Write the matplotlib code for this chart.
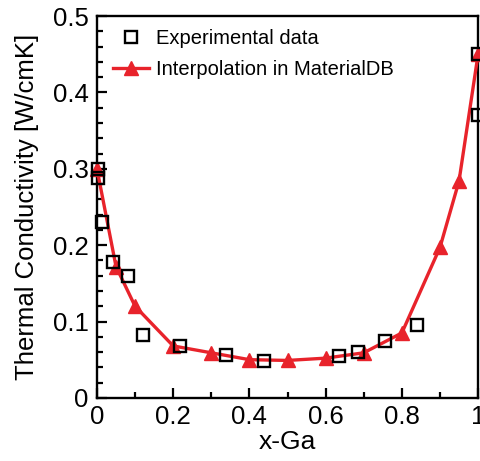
import matplotlib
matplotlib.use("Agg")
import matplotlib.pyplot as plt
from matplotlib.ticker import MultipleLocator

plt.rcParams["font.family"] = ["Liberation Sans", "DejaVu Sans"]

# interpolation in MaterialDB
x_interp = [0.0, 0.05, 0.1, 0.2, 0.3, 0.4, 0.5, 0.6, 0.7, 0.8, 0.9, 0.95, 1.0]
k_interp = [0.300, 0.172, 0.120, 0.068, 0.059, 0.050, 0.049, 0.052, 0.059, 0.085, 0.197, 0.284, 0.450]

# experimental data
x_exp = [0.003, 0.003, 0.013, 0.042, 0.081, 0.12, 0.218, 0.339, 0.438, 0.636, 0.685, 0.756, 0.84, 1.0, 1.0]
k_exp = [0.300, 0.288, 0.230, 0.178, 0.160, 0.082, 0.068, 0.056, 0.048, 0.055, 0.060, 0.074, 0.095, 0.450, 0.370]

x_ticks = [0, 0.2, 0.4, 0.6, 0.8, 1.0]
x_ticklabels = ["0", "0.2", "0.4", "0.6", "0.8", "1"]
y_ticks = [0, 0.1, 0.2, 0.3, 0.4, 0.5]
y_ticklabels = ["0", "0.1", "0.2", "0.3", "0.4", "0.5"]

red = "#e8232b"

fig = plt.figure(figsize=(4.8, 4.61), dpi=100)
ax = fig.add_axes([0.202, 0.137, 0.794, 0.828])

ax.plot(x_interp, k_interp, color=red, lw=2.4, marker="^", ms=10,
        mec=red, mfc=red, clip_on=False, zorder=3,
        label="Interpolation in MaterialDB")
ax.plot(x_exp, k_exp, ls="none", marker="s", ms=9, mfc="none",
        mec="black", mew=1.7, clip_on=False, zorder=4,
        label="Experimental data")

ax.set_xlim(0, 1)
ax.set_ylim(0, 0.5)
ax.set_xticks(x_ticks)
ax.set_xticklabels(x_ticklabels)
ax.set_yticks(y_ticks)
ax.set_yticklabels(y_ticklabels)
ax.xaxis.set_minor_locator(MultipleLocator(0.1))
ax.yaxis.set_minor_locator(MultipleLocator(0.02))

ax.tick_params(which="both", direction="in", width=1.6, labelsize=18.5,
               top=False, right=False)
ax.tick_params(which="major", length=7.5)
ax.tick_params(axis="y", which="major", pad=6)
ax.tick_params(axis="x", which="major", pad=5)
ax.tick_params(which="minor", length=4.5)
for s in ax.spines.values():
    s.set_linewidth(1.7)

ax.set_xlabel("x-Ga", fontsize=19, labelpad=1)
ax.set_ylabel("Thermal Conductivity [W/cmK]", fontsize=18.5, labelpad=10)

h, l = ax.get_legend_handles_labels()
ax.legend(h[::-1], l[::-1], loc="upper left", bbox_to_anchor=(0.042, 0.965),
          frameon=False, fontsize=14.5, handlelength=1.8, borderaxespad=0,
          borderpad=0, labelspacing=0.55, handletextpad=0.35)

fig.savefig("out.png", dpi=100)
